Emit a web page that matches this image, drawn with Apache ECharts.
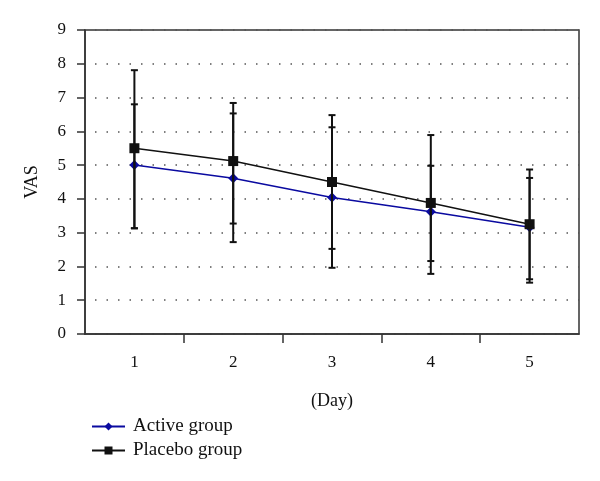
<!DOCTYPE html>
<html><head><meta charset="utf-8">
<script src="https://cdn.jsdelivr.net/npm/echarts@6/dist/echarts.min.js"></script>
<style>html,body{margin:0;padding:0;background:#fff}#c{width:600px;height:481px}</style>
</head><body><div id="c"></div>
<script>
var days = ['1', '2', '3', '4', '5'];
var activeMean = [5.00, 4.61, 4.04, 3.62, 3.16];
var activeUpper = [6.80, 6.53, 6.12, 4.98, 4.62];
var activeLower = [3.13, 2.72, 1.96, 2.16, 1.52];
var placeboMean = [5.50, 5.12, 4.50, 3.88, 3.25];
var placeboUpper = [7.81, 6.84, 6.48, 5.89, 4.87];
var placeboLower = [3.13, 3.27, 2.52, 1.78, 1.62];
var yTicks = [0, 1, 2, 3, 4, 5, 6, 7, 8, 9];

var errData = [];
days.forEach(function (d, i) {
  errData.push([i, activeLower[i], activeUpper[i]]);
  errData.push([i, placeboLower[i], placeboUpper[i]]);
});

var font = 'Liberation Serif';
var chart = echarts.init(document.getElementById('c'));
chart.setOption({
  animation: false,
  textStyle: { fontFamily: font },
  grid: { left: 85, top: 30, width: 494, height: 304, show: true, borderColor: '#333', borderWidth: 1.5, backgroundColor: 'transparent' },
  legend: {
    orient: 'vertical', left: 86, top: 412, itemWidth: 33, itemHeight: 10, itemGap: 5,
    textStyle: { fontFamily: font, fontSize: 19, color: '#111', padding: [0, 0, 0, 3] },
    data: ['Active group', 'Placebo group']
  },
  xAxis: [{
    type: 'category', data: days, boundaryGap: true,
    name: '(Day)', nameLocation: 'middle', nameGap: 58,
    nameTextStyle: { fontFamily: font, fontSize: 18, color: '#111' },
    axisLine: { show: true, lineStyle: { color: '#333', width: 1.5 } },
    axisTick: { show: false },
    axisLabel: { margin: 20, fontFamily: font, fontSize: 17, color: '#111' },
    splitLine: { show: false }
  }, {
    type: 'value', min: 0, max: days.length, interval: days.length, position: 'bottom',
    axisLine: { show: false }, axisLabel: { show: false }, axisTick: { show: false },
    splitLine: { show: false },
    minorTick: { show: true, splitNumber: days.length, length: 9, lineStyle: { color: '#333', width: 1.5 } }
  }],
  yAxis: {
    type: 'value', min: yTicks[0], max: yTicks[yTicks.length - 1], interval: 1,
    name: 'VAS', nameLocation: 'middle', nameGap: 44, nameRotate: 90,
    nameTextStyle: { fontFamily: font, fontSize: 18, color: '#111' },
    axisLine: { show: true, lineStyle: { color: '#333', width: 1.5 } },
    axisTick: { show: true, inside: false, length: 8, lineStyle: { color: '#333', width: 1.5 } },
    axisLabel: { margin: 19, fontFamily: font, fontSize: 17, color: '#111' },
    splitLine: { show: true, lineStyle: { color: '#555', width: 1.5, type: [1.5, 10], dashOffset: -10 } }
  },
  series: [
    {
      name: 'Active group', type: 'line', data: activeMean, symbol: 'diamond', symbolSize: 10,
      lineStyle: { color: '#0a0aa0', width: 1.5 }, itemStyle: { color: '#0a0aa0' }, z: 3
    },
    {
      name: 'Placebo group', type: 'line', data: placeboMean, symbol: 'rect', symbolSize: 10,
      lineStyle: { color: '#111', width: 1.5 }, itemStyle: { color: '#111' }, z: 4
    },
    {
      type: 'custom', data: errData, z: 5, silent: true,
      renderItem: function (params, api) {
        var x = api.value(0);
        var lo = api.coord([x, api.value(1)]);
        var hi = api.coord([x, api.value(2)]);
        var hw = 3.5;
        var st = { stroke: '#111', lineWidth: 2 };
        return {
          type: 'group',
          children: [
            { type: 'line', shape: { x1: hi[0], y1: hi[1], x2: lo[0], y2: lo[1] }, style: st },
            { type: 'line', shape: { x1: hi[0] - hw, y1: hi[1], x2: hi[0] + hw, y2: hi[1] }, style: st },
            { type: 'line', shape: { x1: lo[0] - hw, y1: lo[1], x2: lo[0] + hw, y2: lo[1] }, style: st }
          ]
        };
      }
    }
  ]
});
</script></body></html>
